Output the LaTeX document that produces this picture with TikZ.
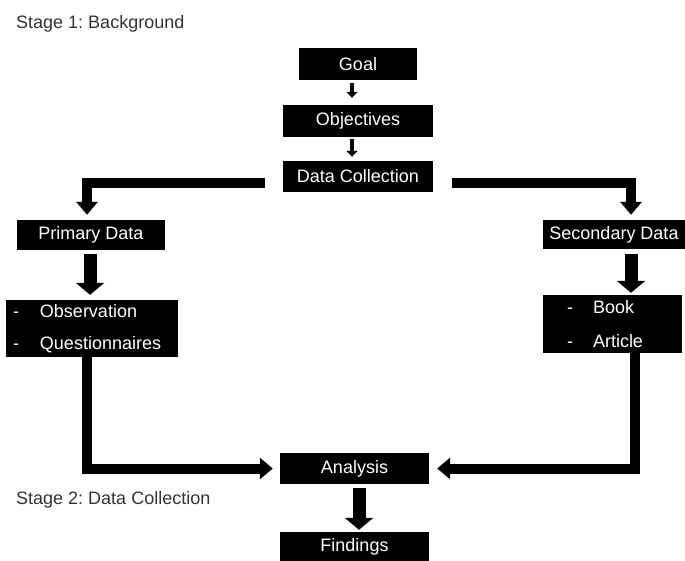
\documentclass[tikz,border=0pt]{standalone}
\usepackage{fontspec}
\setmainfont{Liberation Sans}
\usetikzlibrary{arrows.meta}
\frenchspacing
\begin{document}
\begin{tikzpicture}[x=1pt,y=-1pt,
  box/.style={fill=black,text=white,inner sep=0pt,
    font=\fontsize{18}{21}\selectfont},
  listbox/.style={box,align=left},
  stagelabel/.style={text=black!80,anchor=base west,inner sep=0pt,
    font=\fontsize{18}{21}\selectfont},
  smallarrow/.style={line width=4pt,-{Triangle[width=11pt,length=6pt]}},
  bigarrow/.style={line width=10pt,line join=miter,-{Triangle[width=21pt,length=13pt]}},
  widearrow/.style={line width=13pt,-{Triangle[width=28pt,length=12pt]}},
]
\useasboundingbox (0,0) rectangle (685,561);

% stage captions
\node[stagelabel] (s1) at (16,29) {Stage 1: Background};
\node[stagelabel] (s2) at (16,504) {Stage 2: Data Collection};

% top column
\node[box,minimum width=118pt,minimum height=32pt] (goal) at (358,64) {Goal};
\node[box,minimum width=150pt,minimum height=32pt] (obj) at (358,121) {Objectives};
\node[box,minimum width=150pt,minimum height=31pt] (dc) at (358,176.5) {Data Collection};

% two branches
\node[box,minimum width=148pt,minimum height=30pt] (prim) at (91,235) {Primary Data};
\node[box,minimum width=142pt,minimum height=29pt] (sec) at (614,234.5) {Secondary Data};

\node[listbox,minimum height=57pt,inner xsep=7pt,text width=158pt,
  font=\fontsize{18}{32}\selectfont] (obs) at (92,328.5)
  {\makebox[27pt][l]{-}Observation\\\makebox[27pt][l]{-}Questionnaires};
\node[listbox,minimum height=58pt,inner xsep=24pt,text width=91pt,
  font=\fontsize{18}{34}\selectfont] (book) at (612.5,324)
  {\makebox[26pt][l]{-}Book\\\makebox[26pt][l]{-}Article};

% bottom column
\node[box,minimum width=149pt,minimum height=31pt] (ana) at (354.5,468.5) {Analysis};
\node[box,minimum width=149pt,minimum height=29pt] (find) at (354.5,546.5) {Findings};

% connectors
\draw[smallarrow] ([xshift=-6pt,yshift=-3pt]goal.south) -- ([xshift=-6pt,yshift=7pt]obj.north);
\draw[smallarrow] ([xshift=-6pt,yshift=-2pt]obj.south) -- ([xshift=-6pt,yshift=4pt]dc.north);

\draw[bigarrow] ([xshift=-18pt,yshift=-7pt]dc.west) -| ([xshift=-4pt,yshift=5pt]prim.north);
\draw[bigarrow] ([xshift=19pt,yshift=-7pt]dc.east) -| ([xshift=17pt,yshift=5pt]sec.north);

\draw[widearrow] ([xshift=-1pt,yshift=-4pt]prim.south) -- ([xshift=-2pt,yshift=5pt]obs.north);
\draw[widearrow] ([xshift=17pt,yshift=-5pt]sec.south) -- ([xshift=18.5pt,yshift=2pt]book.north);

\draw[bigarrow] ([xshift=-5pt]obs.south) |- ([xshift=-7pt]ana.west);
\draw[bigarrow] ([xshift=22.5pt]book.south) |- ([xshift=8pt]ana.east);

\draw[widearrow] ([xshift=4.5pt,yshift=-4pt]ana.south) -- ([xshift=4.5pt,yshift=2pt]find.north);
\end{tikzpicture}
\end{document}
